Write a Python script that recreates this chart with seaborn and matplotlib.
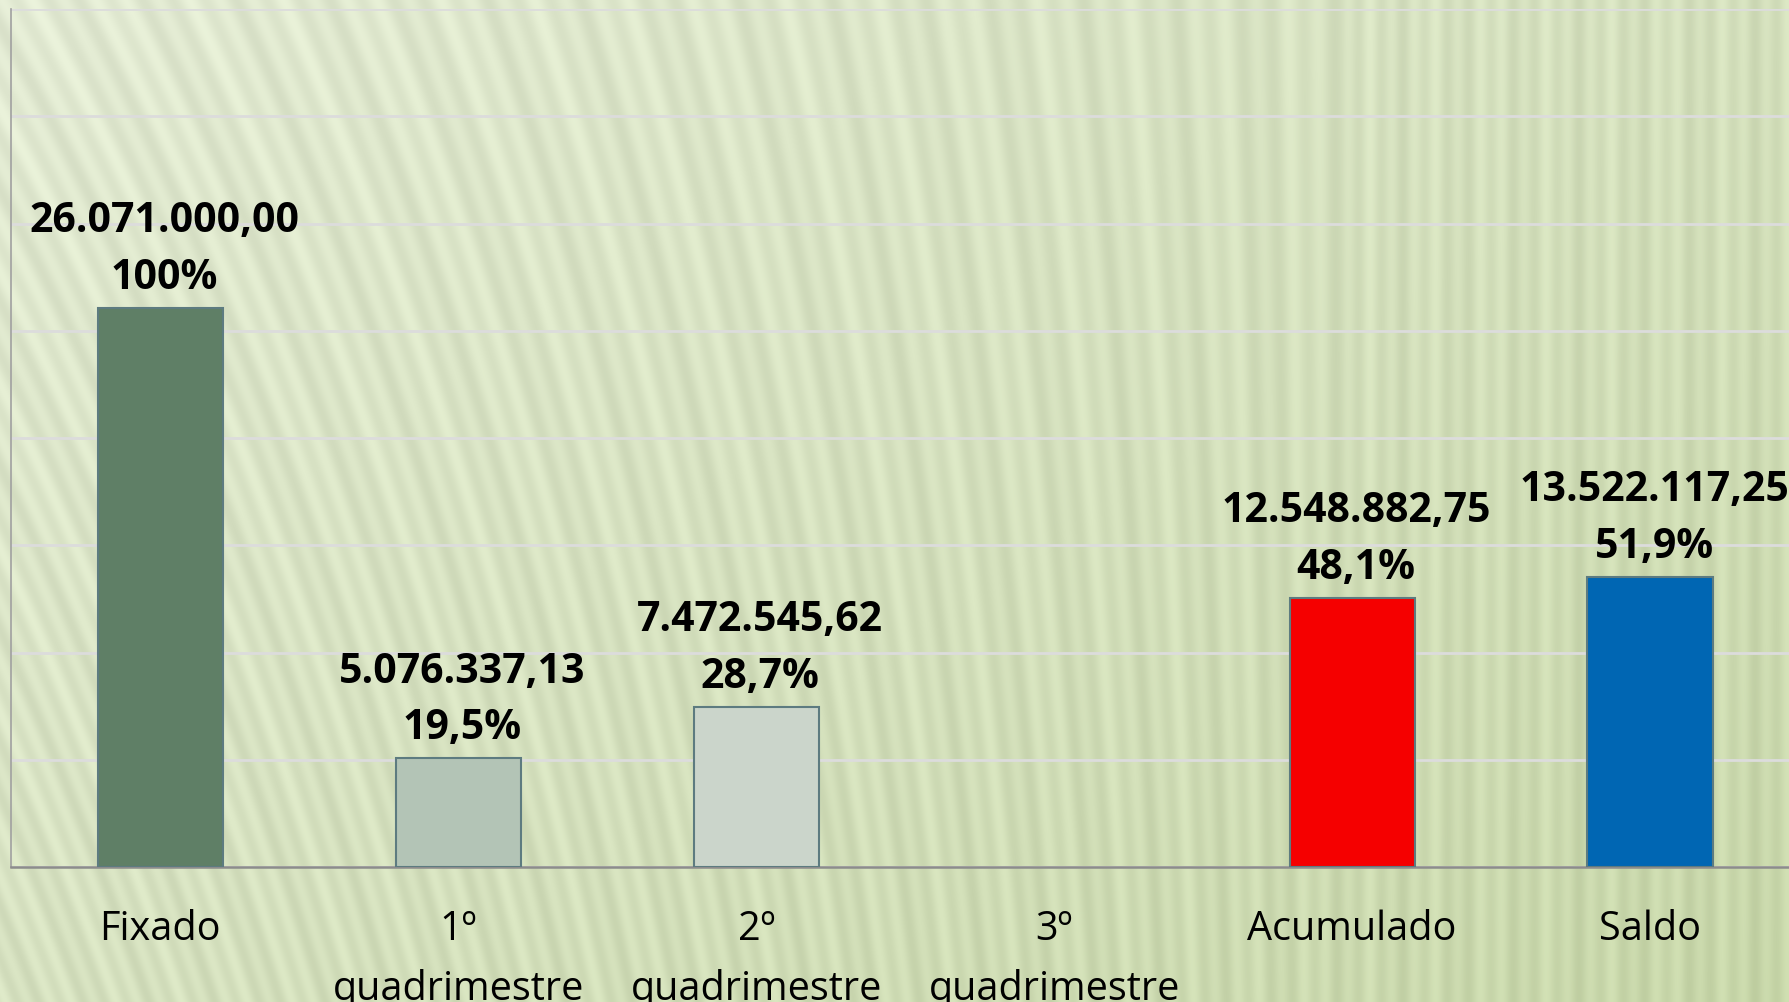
import numpy as np
import pandas as pd
import matplotlib
matplotlib.use('Agg')
import matplotlib.pyplot as plt
import seaborn as sns

# dados do grafico
categorias = ['Fixado', '1º\nquadrimestre', '2º\nquadrimestre', '3º\nquadrimestre', 'Acumulado', 'Saldo']
valores = [26071000.00, 5076337.13, 7472545.62, np.nan, 12548882.75, 13522117.25]
percentuais = ['100%', '19,5%', '28,7%', '', '48,1%', '51,9%']
cores = ['#5f7f66', '#b3c4b6', '#cbd5cb', '#cbd5cb', '#f50000', '#0066b3']

df = pd.DataFrame({'categoria': categorias, 'valor': valores})

sns.set_style('white')
plt.rcParams['font.family'] = ['Open Sans', 'DejaVu Sans']

W, H = 1790, 1003
fig = plt.figure(figsize=(W / 100, H / 100), dpi=100)

# fundo verde com listras
yy, xx = np.mgrid[0:H, 0:W].astype(float)
t = np.clip(0.55 * xx / W + 0.45 * yy / H, 0, 1)
c1 = np.array([0.89, 0.92, 0.83])
c2 = np.array([0.78, 0.84, 0.66])
base = c1[None, None, :] * (1 - t[..., None]) + c2[None, None, :] * t[..., None]
k = 0.40 * np.clip(1 - xx / (0.75 * W), 0, 1)
fase = (xx + k * (H - yy)) / 22.0
listras = 0.025 * np.sin(2 * np.pi * fase) + 0.012 * np.sin(2 * np.pi * fase * 0.37 + 1.3)
bg = np.clip(base + listras[..., None], 0, 1)
bg_ax = fig.add_axes([0, 0, 1, 1], zorder=0)
bg_ax.imshow(bg, aspect='auto', interpolation='bilinear')
bg_ax.axis('off')

left = 11.4 / W
right = 1799 / W
bottom = 1 - 868 / H
top = 1 - 10 / H
ax = fig.add_axes([left, bottom, right - left, top - bottom], zorder=1)
ax.set_facecolor('none')

sns.barplot(data=df, x='categoria', y='valor', hue='categoria', palette=cores,
            saturation=1, legend=False, width=0.42, edgecolor='#5d7b80',
            linewidth=1.5, ax=ax, zorder=3)

ax.set_ylim(0, 40000000)
ax.set_xlim(-0.5, 5.5)
ax.set_yticks(np.arange(0, 40000001, 5000000))
ax.yaxis.grid(True, color='#dcdcdc', linewidth=2)
ax.set_axisbelow(True)
ax.tick_params(axis='y', left=False, labelleft=False)

ax.set_xticks(range(len(categorias)))
ax.set_xticklabels(categorias, fontsize=28.5, linespacing=1.6, color='black')
ax.set_xticks(np.arange(-0.5, 6, 1), minor=True)
ax.tick_params(axis='x', which='major', length=0, pad=30)
ax.tick_params(axis='x', which='minor', length=14, width=1.5, color='#8c8c8c', direction='out')

for s in ['top', 'right']:
    ax.spines[s].set_visible(False)
ax.spines['bottom'].set_color('#8c8c8c')
ax.spines['bottom'].set_linewidth(1.8)
ax.spines['left'].set_color('#a0a0a0')
ax.spines['left'].set_linewidth(1.2)
ax.set_xlabel('')
ax.set_ylabel('')

# rotulos de dados
for i, (v, p) in enumerate(zip(valores, percentuais)):
    if np.isnan(v):
        continue
    txt = f'{v:,.2f}'.replace(',', 'X').replace('.', ',').replace('X', '.')
    ax.annotate(f'{txt}\n{p}', xy=(i, v), xytext=(4, 10), textcoords='offset pixels',
                ha='center', va='bottom', fontsize=29.5, fontweight='bold',
                linespacing=1.5, color='black', zorder=5)

fig.savefig('out.png', dpi=100)
